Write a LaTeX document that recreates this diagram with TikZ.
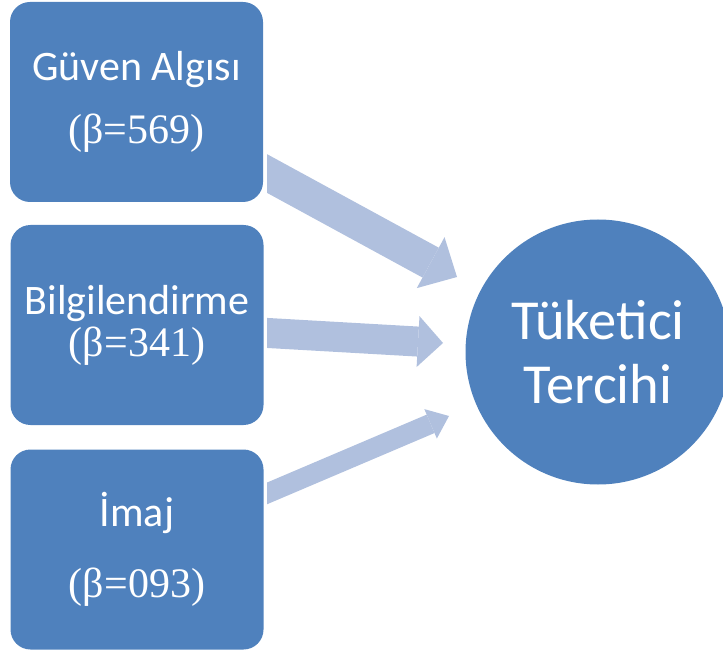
\documentclass[tikz,border=0pt]{standalone}
\usepackage{fontspec}
\setmainfont{Carlito}
\newfontfamily\betafont{Liberation Serif}
\usetikzlibrary{arrows.meta, calc}
\definecolor{boxblue}{RGB}{79,129,189}
\definecolor{arrowblue}{RGB}{176,192,222}

\begin{document}
\begin{tikzpicture}[x=1pt, y=-1pt,
    factor/.style={rectangle, rounded corners=20pt, fill=boxblue, text=white, minimum width=253pt, minimum height=200pt, inner sep=0pt, align=center, font=\fontsize{42}{38}\selectfont},
    result/.style={circle, fill=boxblue, text=white, minimum size=265pt, inner sep=0pt, align=center, font=\fontsize{56.5}{64}\selectfont},
    flow/.style n args={3}{draw=arrowblue, line width=#1, -{Triangle[width=#2, length=#3, line width=0pt, fill=arrowblue]}}]
    \useasboundingbox (0,0) rectangle (723,652);
    % factors on the left
    \node[factor] (guven) at (136.5,102) {Güven Algısı\\[25pt]{\betafont(β=569)}};
    \node[factor] (bilgi) at (137,325) {Bilgilendirme\\[4pt]{\betafont(β=341)}};
    \node[factor] (imaj) at (137,549.5) {İmaj\\[33pt]{\betafont(β=093)}};
    % outcome
    \node[result] (tercih) at (598,352) {Tüketici\\Tercihi};
    % arrow ends
    \coordinate (t1) at (267,173.5);
    \coordinate (h1) at (457,277);
    \coordinate (t2) at (268,333);
    \coordinate (h2) at (443,343);
    \coordinate (t3) at (268,493);
    \coordinate (h3) at (449,416);
    \begin{scope}
        \clip (267,0) rectangle (723,652);
        \draw[flow={34pt}{58pt}{30pt}] ($(t1)!-20pt!(h1)$) -- (h1);
        \draw[flow={30pt}{51pt}{25pt}] ($(t2)!-20pt!(h2)$) -- (h2);
        \draw[flow={20pt}{32pt}{20pt}] ($(t3)!-20pt!(h3)$) -- (h3);
    \end{scope}
\end{tikzpicture}
\end{document}
